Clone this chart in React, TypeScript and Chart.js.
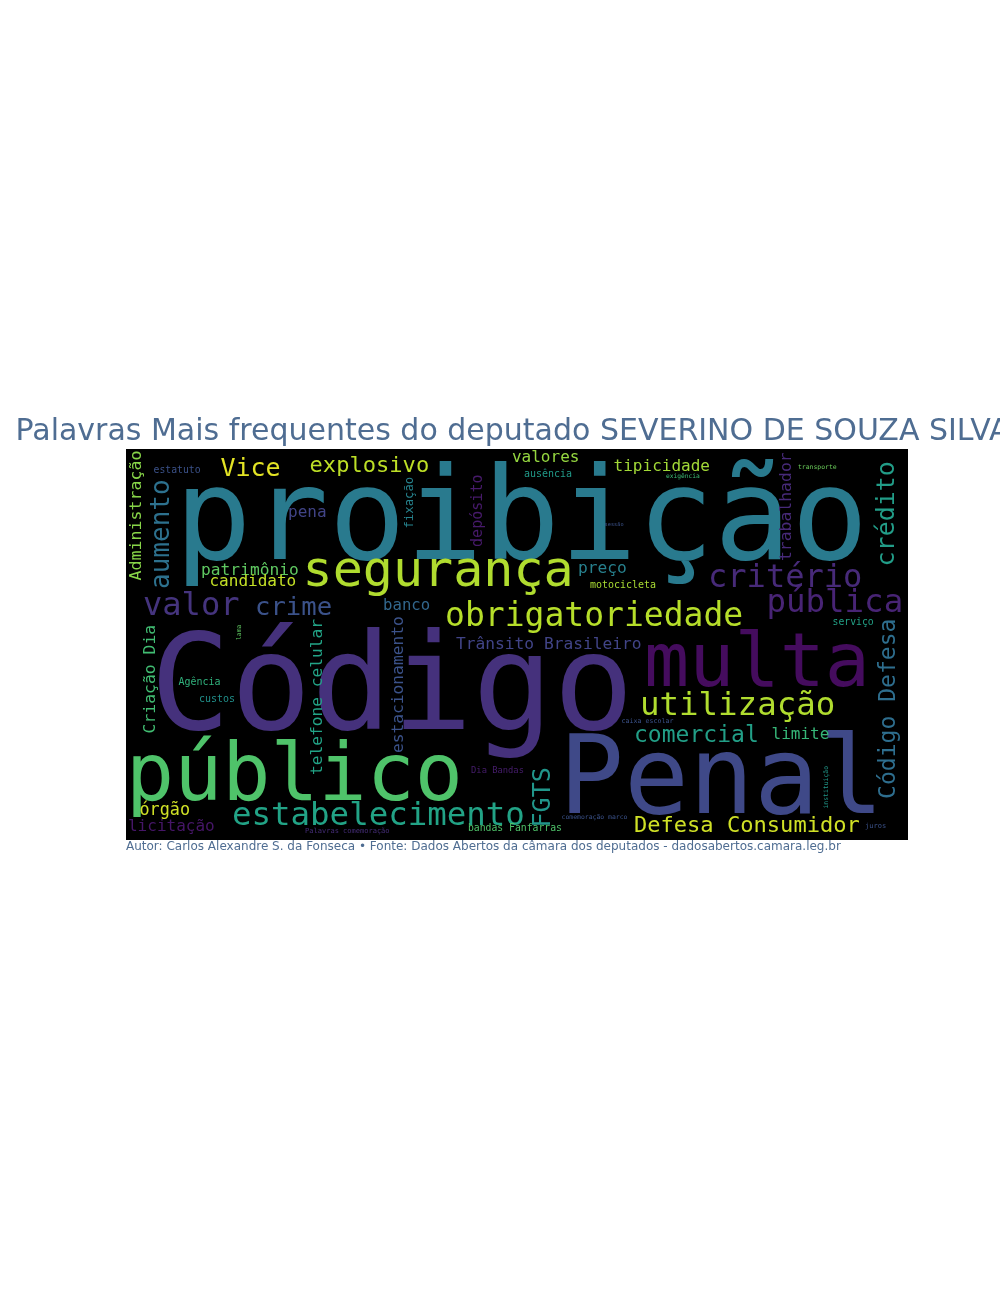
import React, { useEffect, useRef } from "react";
import { Chart, registerables } from "chart.js";

Chart.register(...registerables);

const TITLE = "Palavras Mais frequentes do deputado SEVERINO DE SOUZA SILVA";
const CAPTION =
  "Autor: Carlos Alexandre S. da Fonseca \u2022 Fonte: Dados Abertos da câmara dos deputados - dadosabertos.camara.leg.br";

// Word cloud layout (400 x 200 cloud grid)
const words = [
  "proibição", "Código", "Penal", "multa", "público", "segurança", "obrigatoriedade",
  "utilização", "estabelecimento", "Defesa Consumidor", "comercial", "limite",
  "Trânsito Brasileiro", "tipicidade", "valores", "Vice", "explosivo", "valor", "crime",
  "critério", "pública", "patrimônio", "candidato", "pena", "banco", "preço",
  "motocicleta", "ausência", "exigência", "transporte", "sessão", "estatuto", "Agência",
  "custos", "órgão", "licitação", "Palavras comemoração", "Dia Bandas", "bandas Fanfarras",
  "comemoração marco", "caixa escolar", "juros", "serviço",
  "FGTS", "Código Defesa", "crédito", "trabalhador", "aumento", "Administração",
  "fixação", "depósito", "Criação Dia", "lama", "telefone celular", "estacionamento",
  "instituição",
];
const cloudX = [
  24.8, 12.3, 221.5, 265.0, 0, 90.3, 163.2,
  262.9, 54.2, 259.8, 259.8, 330.2,
  168.8, 249.4, 197.4, 48.3, 93.9, 8.7, 66.0,
  297.7, 327.6, 38.4, 42.7, 82.9, 131.5, 231.2,
  237.3, 203.6, 276.2, 343.7, 244.8, 14.1, 26.9,
  37.3, 6.9, 1.0, 91.6, 176.5, 174.9,
  222.8, 253.5, 378.0, 361.4,
  216.9, 393.4, 392.8, 340.2, 22.1, 7.9,
  147.0, 182.1, 15.0, 58.6, 100.4, 141.7,
  359.1,
];
const cloudY = [
  56.3, 143.2, 186.2, 121.2, 179.5, 70.1, 90.3,
  136.1, 192.3, 195.8, 149.7, 148.3,
  102.3, 11.1, 6.5, 14.0, 11.9, 84.8, 84.8,
  70.7, 83.5, 64.5, 70.2, 34.9, 82.4, 63.4,
  71.3, 14.2, 15.0, 10.2, 39.2, 12.4, 120.7,
  129.3, 187.2, 195.2, 196.6, 165.6, 195.2,
  189.3, 140.2, 193.9, 89.9,
  193.6, 179.0, 60.1, 57.3, 71.6, 67.3,
  40.7, 50.1, 145.5, 97.7, 166.8, 155.5,
  183.9,
];
// frequency weight (font size in cloud units)
const freq = [
  65.5, 68.5, 55.2, 38.4, 40.9, 25.6, 16.9,
  16.6, 16.6, 11.3, 11.8, 8.2,
  8.3, 8.2, 8.2, 12.8, 11.3, 16.4, 13.1,
  16.4, 16.6, 8.3, 8.2, 8.2, 8.0, 8.3,
  5.1, 5.1, 3.2, 3.3, 2.7, 5.0, 5.1,
  5.1, 8.6, 8.2, 3.6, 4.5, 5.0,
  3.3, 3.4, 3.6, 5.0,
  12.8, 11.8, 12.8, 8.4, 13.3, 8.5,
  6.3, 7.7, 8.4, 3.3, 8.3, 8.3,
  3.3,
];
const vertical = [
  0, 0, 0, 0, 0, 0, 0,
  0, 0, 0, 0, 0,
  0, 0, 0, 0, 0, 0, 0,
  0, 0, 0, 0, 0, 0, 0,
  0, 0, 0, 0, 0, 0, 0,
  0, 0, 0, 0, 0, 0,
  0, 0, 0, 0,
  1, 1, 1, 1, 1, 1,
  1, 1, 1, 1, 1, 1,
  1,
];
const tone = [
  0.41, 0.14, 0.22, 0.03, 0.72, 0.88, 0.89,
  0.88, 0.58, 0.93, 0.56, 0.66,
  0.2, 0.86, 0.84, 0.96, 0.9, 0.15, 0.25,
  0.12, 0.1, 0.75, 0.91, 0.2, 0.33, 0.43,
  0.87, 0.54, 0.68, 0.77, 0.25, 0.25, 0.64,
  0.5, 0.93, 0.06, 0.13, 0.08, 0.72,
  0.25, 0.25, 0.25, 0.57,
  0.52, 0.36, 0.55, 0.12, 0.37, 0.82,
  0.44, 0.07, 0.69, 0.75, 0.58, 0.25,
  0.53,
];

const VIRIDIS = [
  "#440154", "#482475", "#414487", "#355f8d", "#2a788e", "#21918c",
  "#22a884", "#44bf70", "#7ad151", "#bddf26", "#fde725",
];

function hexToRgb(h: string) {
  const n = parseInt(h.slice(1), 16);
  return [(n >> 16) & 255, (n >> 8) & 255, n & 255];
}
function viridis(t: number) {
  const p = Math.max(0, Math.min(1, t)) * (VIRIDIS.length - 1);
  const i = Math.min(VIRIDIS.length - 2, Math.floor(p));
  const f = p - i;
  const a = hexToRgb(VIRIDIS[i]);
  const b = hexToRgb(VIRIDIS[i + 1]);
  const c = a.map((v, k) => Math.round(v + (b[k] - v) * f));
  return `rgb(${c[0]},${c[1]},${c[2]})`;
}

const TEXT_COLOR = "#4f6d92";

const cloudPlugin = {
  id: "cloud",
  beforeDatasetsDraw(chart: any) {
    const { ctx, chartArea: a } = chart;
    ctx.save();
    ctx.fillStyle = "#000000";
    ctx.fillRect(a.left, a.top, a.right - a.left, a.bottom - a.top);
    ctx.restore();
  },
  afterDatasetsDraw(chart: any) {
    const { ctx, chartArea: a } = chart;
    const xs = chart.scales.x;
    const ys = chart.scales.y;
    ctx.save();
    ctx.beginPath();
    ctx.rect(a.left, a.top, a.right - a.left, a.bottom - a.top);
    ctx.clip();
    words.forEach((w, i) => {
      const px = xs.getPixelForValue(cloudX[i]);
      const py = ys.getPixelForValue(cloudY[i]);
      const fs = Math.abs(ys.getPixelForValue(freq[i]) - ys.getPixelForValue(0));
      ctx.save();
      ctx.font = `${fs}px "DejaVu Sans Mono"`;
      ctx.fillStyle = viridis(tone[i]);
      ctx.textAlign = "left";
      ctx.textBaseline = "alphabetic";
      ctx.translate(px, py);
      if (vertical[i]) ctx.rotate(-Math.PI / 2);
      ctx.fillText(w, 0, 0);
      ctx.restore();
    });
    ctx.restore();
  },
  afterDraw(chart: any) {
    const { ctx, chartArea: a } = chart;
    ctx.save();
    ctx.fillStyle = TEXT_COLOR;
    ctx.textBaseline = "alphabetic";
    ctx.textAlign = "left";
    ctx.font = '30px "DejaVu Sans"';
    ctx.fillText(TITLE, 7.5, a.top - 9);
    ctx.font = '12px "DejaVu Sans"';
    ctx.fillText(CAPTION, a.left, a.bottom + 10);
    ctx.restore();
  },
};

export default function App() {
  const ref = useRef<HTMLCanvasElement | null>(null);
  useEffect(() => {
    if (!ref.current) return;
    const chart = new Chart(ref.current, {
      type: "scatter",
      data: {
        datasets: [
          {
            data: words.map((_, i) => ({ x: cloudX[i], y: cloudY[i] })),
            pointRadius: 0,
            pointHoverRadius: 0,
          },
        ],
      },
      options: {
        animation: false,
        responsive: false,
        devicePixelRatio: 1,
        layout: { padding: { left: 118, right: 92, top: 441, bottom: 448 } },
        scales: {
          x: { type: "linear", min: 0, max: 400, display: false },
          y: { type: "linear", min: 0, max: 200, reverse: true, display: false },
        },
        plugins: {
          legend: { display: false },
          tooltip: { enabled: false },
          title: { display: false },
        },
        events: [],
      },
      plugins: [cloudPlugin],
    });
    return () => chart.destroy();
  }, []);
  return (
    <div style={{ width: 992, height: 1280 }}>
      <canvas ref={ref} width={992} height={1280} style={{ display: "block" }} />
    </div>
  );
}
